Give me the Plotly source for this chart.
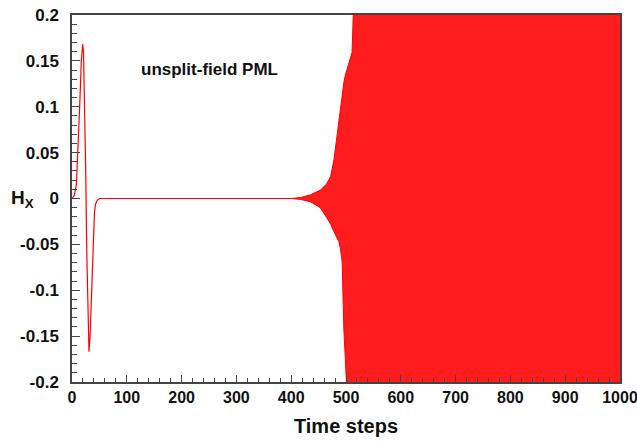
import plotly.graph_objects as go

# pulse (time step, Hx)
pulse_steps = [0, 4, 8, 11, 14, 17, 19.5, 21, 23, 25, 27, 29, 31, 33, 35, 37, 39, 41, 43, 46, 50, 400]
pulse_hx = [0.0, 0.003, 0.015, 0.05, 0.10, 0.15, 0.168, 0.16, 0.11, 0.03, -0.06, -0.13, -0.167,
            -0.15, -0.11, -0.07, -0.035, -0.015, -0.006, -0.002, 0.0, 0.0]

# envelope of the instability (too dense to resolve single oscillations)
burst_steps = [400, 417, 435, 453, 465, 472, 478, 484, 487, 490, 493, 496, 499, 505, 511, 516, 1000]
burst_upper = [0.0, 0.001, 0.004, 0.009, 0.016, 0.024, 0.042, 0.071, 0.085, 0.096, 0.11, 0.126,
               0.135, 0.148, 0.159, 0.25, 0.25]
burst_lower = [0.0, -0.001, -0.0035, -0.010, -0.021, -0.028, -0.036, -0.044, -0.047, -0.055,
               -0.069, -0.141, -0.17, -0.25, -0.25, -0.25, -0.25]

y_ticks = [0.2, 0.15, 0.1, 0.05, 0, -0.05, -0.1, -0.15, -0.2]
y_tick_labels = ["0.2", "0.15", "0.1", "0.05", "0", "-0.05", "-0.1", "-0.15", "-0.2"]

RED = "rgb(255,0,0)"
FONT = "Arial, Liberation Sans, sans-serif"
AXIS_COL = "#444444"
TEXT_COL = "#111111"

fig = go.Figure()

fig.add_trace(go.Scatter(x=pulse_steps, y=pulse_hx, mode="lines", hoverinfo="skip",
                         line=dict(color=RED, width=1.2)))
fig.add_trace(go.Scatter(x=burst_steps, y=burst_upper, mode="lines", hoverinfo="skip",
                         line=dict(color=RED, width=1)))
fig.add_trace(go.Scatter(x=burst_steps, y=burst_lower, mode="lines", fill="tonexty",
                         hoverinfo="skip", fillcolor="rgb(255,28,28)",
                         line=dict(color=RED, width=1)))

axis_common = dict(
    showline=True, linecolor=AXIS_COL, linewidth=1.5, mirror=True,
    ticks="inside", tickcolor=AXIS_COL, tickwidth=1.2,
    showgrid=False, zeroline=False, automargin=False,
    ticklabeloverflow="allow",
)

fig.update_layout(
    width=637, height=441,
    margin=dict(l=72, r=17, t=15, b=59),
    plot_bgcolor="white", paper_bgcolor="white",
    showlegend=False,
    xaxis=dict(range=[0, 1000], tickmode="linear", tick0=0, dtick=100, ticklen=7,
               minor=dict(dtick=20, ticks="inside", ticklen=4, tickcolor=AXIS_COL),
               tickfont=dict(family=FONT, size=16, color=TEXT_COL, weight="bold"),
               title=dict(text="Time steps", font=dict(family=FONT, size=20, color=TEXT_COL,
                                                       weight="bold"), standoff=14),
               **axis_common),
    yaxis=dict(range=[-0.2, 0.2], tickmode="array", tickvals=y_ticks, ticktext=y_tick_labels,
               ticklen=8, ticklabelstandoff=8,
               minor=dict(dtick=0.01, ticks="inside", ticklen=5, tickcolor=AXIS_COL),
               tickfont=dict(family=FONT, size=17, color=TEXT_COL, weight="bold"),
               **axis_common),
)

# y label and in-plot note
fig.add_annotation(text="H<sub>X</sub>", xref="paper", yref="y", x=-0.09, y=0,
                   showarrow=False, xanchor="center",
                   font=dict(family=FONT, size=19, color=TEXT_COL, weight="bold"))
fig.add_annotation(text="unsplit-field PML", x=250, y=0.141, showarrow=False,
                   font=dict(family=FONT, size=17, color=TEXT_COL, weight="bold"))

fig.write_html("out.html", config={"displayModeBar": False},
               post_script="document.body.style.margin='0';")
